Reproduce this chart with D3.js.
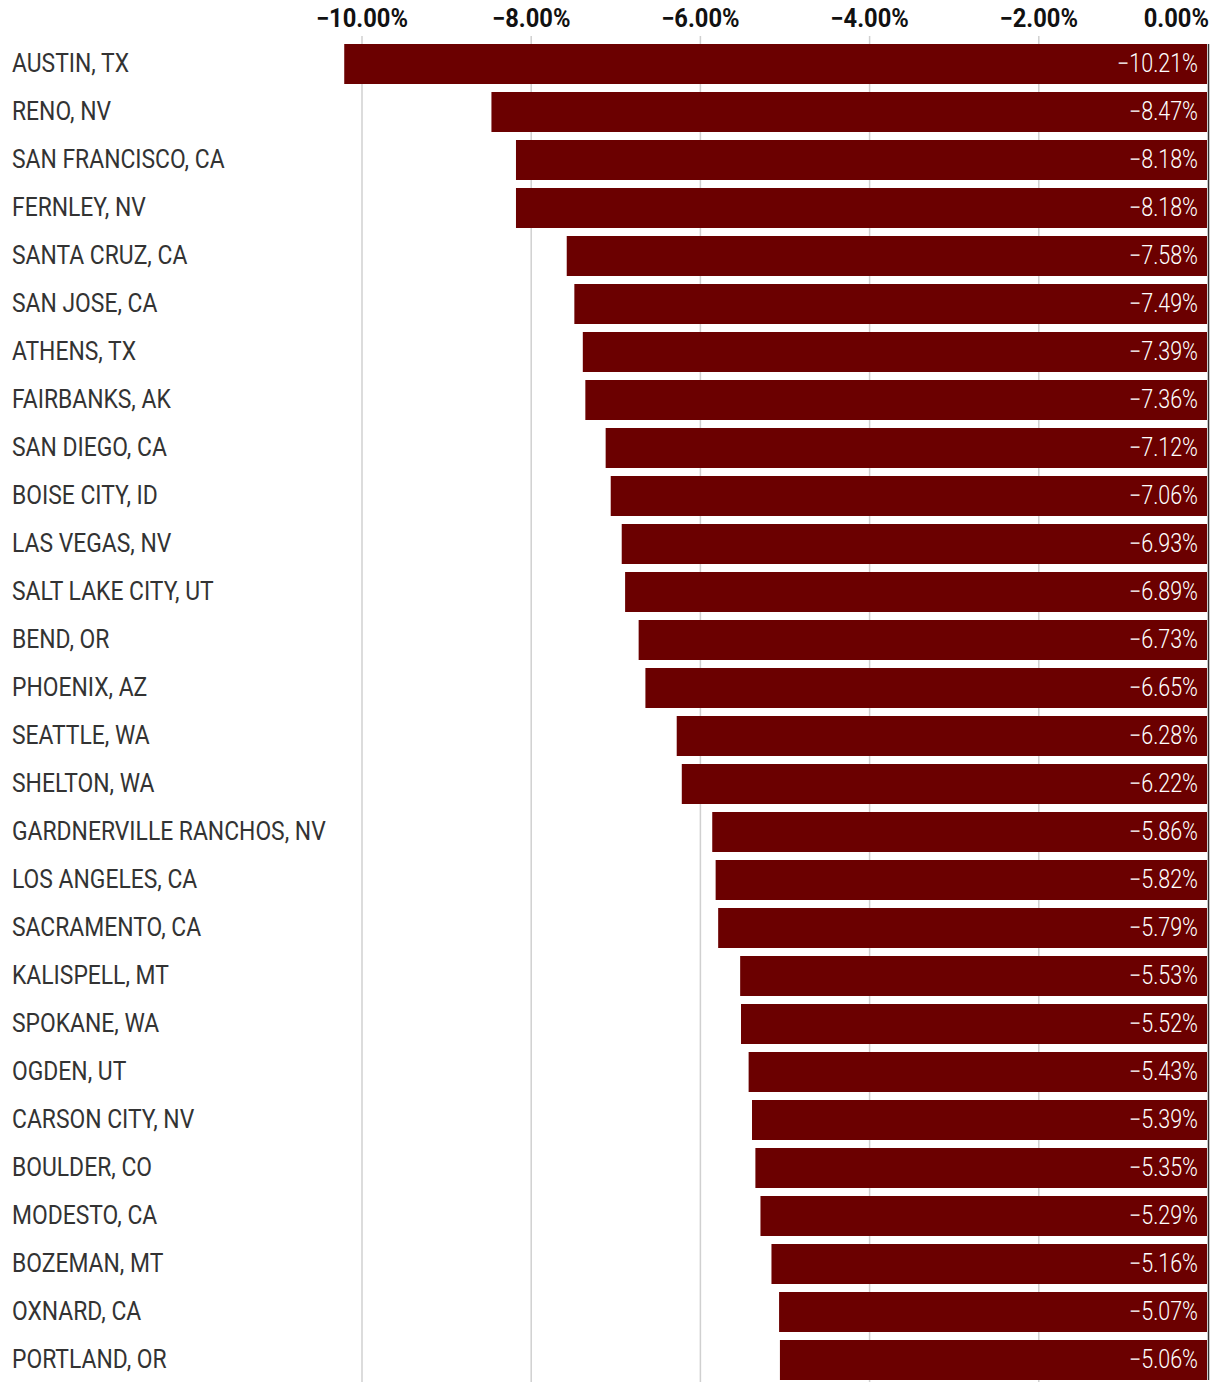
<!DOCTYPE html>
<html>
<head>
<meta charset="utf-8">
<script src="https://cdn.jsdelivr.net/npm/d3@7"></script>
<style>
  html, body { margin: 0; padding: 0; background: #fff; }
  svg text { font-family: "Roboto", "Liberation Sans", sans-serif; }
</style>
</head>
<body>
<svg id="chart" width="1220" height="1390"></svg>
<script>
const cities = ["AUSTIN, TX","RENO, NV","SAN FRANCISCO, CA","FERNLEY, NV","SANTA CRUZ, CA","SAN JOSE, CA","ATHENS, TX","FAIRBANKS, AK","SAN DIEGO, CA","BOISE CITY, ID","LAS VEGAS, NV","SALT LAKE CITY, UT","BEND, OR","PHOENIX, AZ","SEATTLE, WA","SHELTON, WA","GARDNERVILLE RANCHOS, NV","LOS ANGELES, CA","SACRAMENTO, CA","KALISPELL, MT","SPOKANE, WA","OGDEN, UT","CARSON CITY, NV","BOULDER, CO","MODESTO, CA","BOZEMAN, MT","OXNARD, CA","PORTLAND, OR"];
const values = [-10.21,-8.47,-8.18,-8.18,-7.58,-7.49,-7.39,-7.36,-7.12,-7.06,-6.93,-6.89,-6.73,-6.65,-6.28,-6.22,-5.86,-5.82,-5.79,-5.53,-5.52,-5.43,-5.39,-5.35,-5.29,-5.16,-5.07,-5.06];
const tickValues = [-10,-8,-6,-4,-2,0];
const tickLabels = ["\u221210.00%","\u22128.00%","\u22126.00%","\u22124.00%","\u22122.00%","0.00%"];

const svg = d3.select("#chart");
const x = d3.scaleLinear().domain([-10, 0]).range([362, 1208]);
const yb = d3.scaleBand().domain(cities).range([40, 40 + 48 * 28]).padding(0);

// gridlines
svg.append("g").selectAll("line").data(tickValues.filter(d => d !== 0)).join("line")
  .attr("x1", d => x(d)).attr("x2", d => x(d))
  .attr("y1", 36).attr("y2", 1382)
  .attr("stroke", "#d0d0d0").attr("stroke-width", 1.5);

// tick labels
svg.append("g").selectAll("text").data(tickValues).join("text")
  .attr("transform", (d, i) => `translate(${i === tickValues.length - 1 ? 1209 : x(d)},27) scale(0.95,1)`)
  .attr("text-anchor", (d, i) => i === tickValues.length - 1 ? "end" : "middle")
  .attr("font-size", 25).attr("font-weight", "bold").attr("fill", "#111")
  .text((d, i) => tickLabels[i]);

// bars
svg.append("g").selectAll("rect").data(values).join("rect")
  .attr("x", d => x(d)).attr("width", d => x(0) - x(d) - 1)
  .attr("y", (d, i) => yb(cities[i]) + 4).attr("height", 40)
  .attr("fill", "#6b0000");

// zero line
svg.append("line").attr("x1", 1208.5).attr("x2", 1208.5).attr("y1", 44).attr("y2", 1380)
  .attr("stroke", "#333").attr("stroke-width", 1.5);

// city labels
svg.append("g").selectAll("text").data(cities).join("text")
  .attr("transform", d => `translate(12,${yb(d) + 24 + 7.5}) scale(0.915,1)`)
  .attr("font-size", 25).attr("fill", "#333")
  .text(d => d);

// value labels
svg.append("g").selectAll("text").data(values).join("text")
  .attr("transform", (d, i) => `translate(1198,${yb(cities[i]) + 24 + 7.5}) scale(0.86,1)`)
  .attr("text-anchor", "end").attr("font-size", 25).attr("font-weight", 300).attr("fill", "#fff")
  .text(d => "\u2212" + Math.abs(d).toFixed(2) + "%");
</script>
</body>
</html>
